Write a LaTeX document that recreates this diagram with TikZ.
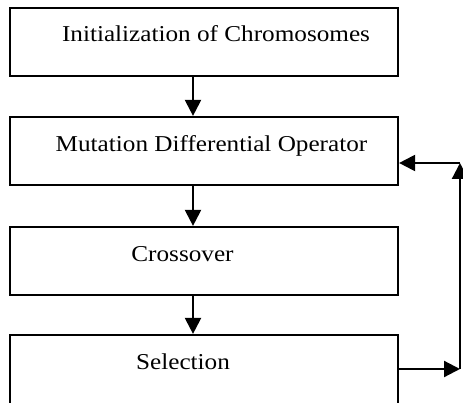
\documentclass[tikz,border=0pt]{standalone}
\usepackage{fontspec}
\setmainfont[FakeStretch=1.11]{Liberation Serif}
\usetikzlibrary{arrows.meta}
\begin{document}
\begin{tikzpicture}[x=1pt,y=-1pt,
  box/.style={draw,line width=2.2pt,rectangle,minimum width=388pt,inner sep=0pt},
  lbl/.style={anchor=base,inner sep=0pt,font=\fontsize{22.7}{27}\selectfont},
  arr/.style={line width=2.2pt,-{Triangle[length=16pt,width=16pt]}}]
\useasboundingbox (0,0) rectangle (463,403);
\clip (0,0) rectangle (463,403);
\node[box,minimum height=68pt] (b1) at (204,42) {};
\node[box,minimum height=68pt] (b2) at (204,151) {};
\node[box,minimum height=68pt] (b3) at (204,261) {};
\node[box,minimum height=70pt] (b4) at (204,370) {};
\node[lbl] (t1) at (216,42) {Initialization of Chromosomes};
\node[lbl] (t2) at (211.5,152) {Mutation Differential Operator};
\node[lbl] (t3) at (182.5,262) {Crossover};
\node[lbl] (t4) at (183,369) {Selection};
\coordinate (ax) at (193,0);
\coordinate (c1) at (460,369);
\coordinate (c2) at (460,163);
\draw[arr] (b1.south -| ax) -- (b2.north -| ax);
\draw[arr] (b2.south -| ax) -- (b3.north -| ax);
\draw[arr] (b3.south -| ax) -- (b4.north -| ax);
\draw[arr] (b4.east |- c1) -- (c1);
\draw[arr] (c1) -- (c2);
\draw[arr] (c2) -- (b2.east |- c2);
\end{tikzpicture}
\end{document}
